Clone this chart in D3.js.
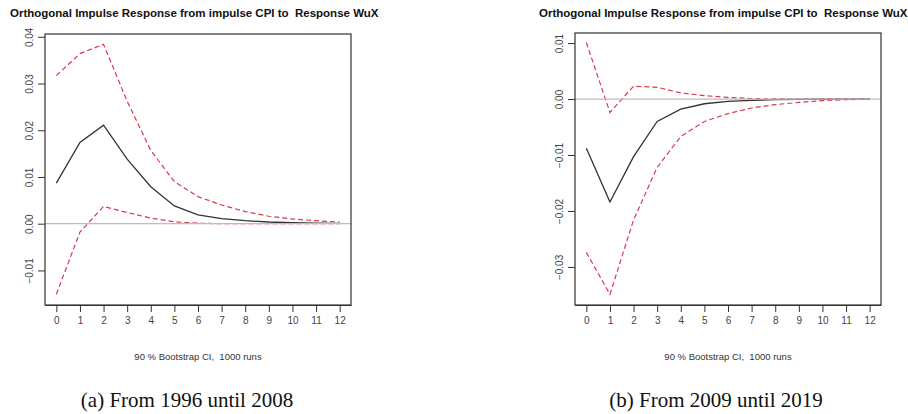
<!DOCTYPE html>
<html><head><meta charset="utf-8">
<script src="https://cdn.jsdelivr.net/npm/d3@7"></script>
<style>
html,body{margin:0;padding:0;background:#fff;}
svg{display:block;}
</style></head>
<body>
<svg id="chart" width="908" height="414"></svg>
<script>
// ---- data ----
const horizons = [0,1,2,3,4,5,6,7,8,9,10,11,12];
const xTickLabels = ["0","1","2","3","4","5","6","7","8","9","10","11","12"];

// Panel (a) 1996-2008
const irfA   = [0.0087, 0.0174, 0.0211, 0.0138, 0.0079, 0.0038, 0.0019, 0.0011, 0.00064, 0.00036, 0.0002, 0.0001, 0.00005];
const upperA = [0.0317, 0.0364, 0.0384, 0.0262, 0.0157, 0.0090, 0.0058, 0.0040, 0.0026, 0.0016, 0.0010, 0.00064, 0.00036];
const lowerA = [-0.0151, -0.0018, 0.0037, 0.0024, 0.0012, 0.0004, 0.0001, 0.0000, 0.0000, 0.0000, 0.0000, 0.0000, 0.0000];
const yTicksA = [-0.01, 0.00, 0.01, 0.02, 0.03, 0.04];

// Panel (b) 2009-2019
const irfB   = [-0.0088, -0.0184, -0.0103, -0.0040, -0.0018, -0.00084, -0.0004, -0.00025, -0.0001, -0.00005, 0, 0, 0];
const upperB = [0.0101, -0.0024, 0.0023, 0.0021, 0.0011, 0.0006, 0.0003, 0.00008, 0.00002, 0, 0, 0, 0];
const lowerB = [-0.0274, -0.0349, -0.0216, -0.0122, -0.0067, -0.0040, -0.0026, -0.0016, -0.0010, -0.0006, -0.0003, -0.0001, -0.00005];
const yTicksB = [-0.03, -0.02, -0.01, 0.00, 0.01];

const titleText = "Orthogonal Impulse Response from impulse CPI to  Response WuX";
const subText = "90 % Bootstrap CI,  1000 runs";
const captions = ["(a) From 1996 until 2008", "(b) From 2009 until 2019"];

// ---- drawing ----
const svg = d3.select("#chart");
const sans = "'Liberation Sans', Arial, sans-serif";

function panel(cfg){
  const g = svg.append("g");
  const x = d3.scaleLinear().domain([-0.48, 12.48]).range([cfg.left, cfg.right]);
  const y = d3.scaleLinear().domain(cfg.ydom).range([305, cfg.top]);

  // title
  g.append("text").attr("x", cfg.titleX).attr("y", 17)
    .attr("font-family", sans).attr("font-weight", "bold").attr("font-size", 11.5)
    .attr("fill", "#111").style("white-space","pre")
    .text(titleText);

  // lines
  const line = d3.line().x((d,i)=>x(horizons[i])).y(d=>y(d));
  g.append("path").datum(cfg.upper).attr("d", line).attr("fill","none")
    .attr("stroke","#d93a4f").attr("stroke-width",1.2).attr("stroke-dasharray","5,3");
  g.append("path").datum(cfg.lower).attr("d", line).attr("fill","none")
    .attr("stroke","#d93a4f").attr("stroke-width",1.2).attr("stroke-dasharray","5,3");
  g.append("path").datum(cfg.irf).attr("d", line).attr("fill","none")
    .attr("stroke","#333").attr("stroke-width",1.3);

  // zero line
  g.append("line").attr("x1", cfg.left).attr("x2", cfg.right)
    .attr("y1", y(0)).attr("y2", y(0)).attr("stroke","#bdbdbd").attr("stroke-width",1.3);

  // box
  g.append("rect").attr("x", cfg.left).attr("y", cfg.top)
    .attr("width", cfg.right-cfg.left).attr("height", 305-cfg.top)
    .attr("fill","none").attr("stroke","#333").attr("stroke-width",1.2);

  // x axis
  const xa = g.append("g").attr("transform","translate(0,305)")
    .call(d3.axisBottom(x).tickValues(horizons).tickFormat((d,i)=>xTickLabels[i])
      .tickSize(7).tickSizeOuter(0).tickPadding(5));
  xa.select(".domain").attr("stroke","#333");
  xa.selectAll(".tick line").attr("stroke","#333");
  xa.selectAll(".tick text").attr("font-family", sans).attr("font-size", 10).attr("fill","#444");

  // y axis
  const ya = g.append("g").attr("transform",`translate(${cfg.left},0)`)
    .call(d3.axisLeft(y).tickValues(cfg.yticks).tickFormat(d3.format(".2f")).tickSize(7));
  ya.select(".domain").remove();
  ya.selectAll(".tick line").attr("stroke","#333");
  ya.selectAll(".tick text")
    .attr("x", 0).attr("dy", null)
    .attr("transform","translate(-15,0) rotate(-90)")
    .attr("text-anchor","middle").attr("dominant-baseline","middle")
    .attr("font-family", sans).attr("font-size", 10).attr("fill","#444");

  // subtitle
  g.append("text").attr("x", (cfg.left+cfg.right)/2).attr("y", 360)
    .attr("text-anchor","middle").attr("font-family", sans).attr("font-size", 9.5)
    .attr("fill","#333").style("white-space","pre").text(subText);

  // caption
  g.append("text").attr("x", cfg.capX).attr("y", 407)
    .attr("text-anchor","middle").attr("font-family","'Liberation Serif','Times New Roman',serif")
    .attr("font-size", 21).attr("fill","#111").text(cfg.caption);
}

panel({left:45, right:351, top:34, ydom:[-0.0174, 0.0406], yticks:yTicksA,
       irf:irfA, upper:upperA, lower:lowerA, titleX:10, capX:187, caption:captions[0]});
panel({left:575, right:881, top:33, ydom:[-0.0368, 0.0118], yticks:yTicksB,
       irf:irfB, upper:upperB, lower:lowerB, titleX:539, capX:716, caption:captions[1]});
</script>
</body></html>
